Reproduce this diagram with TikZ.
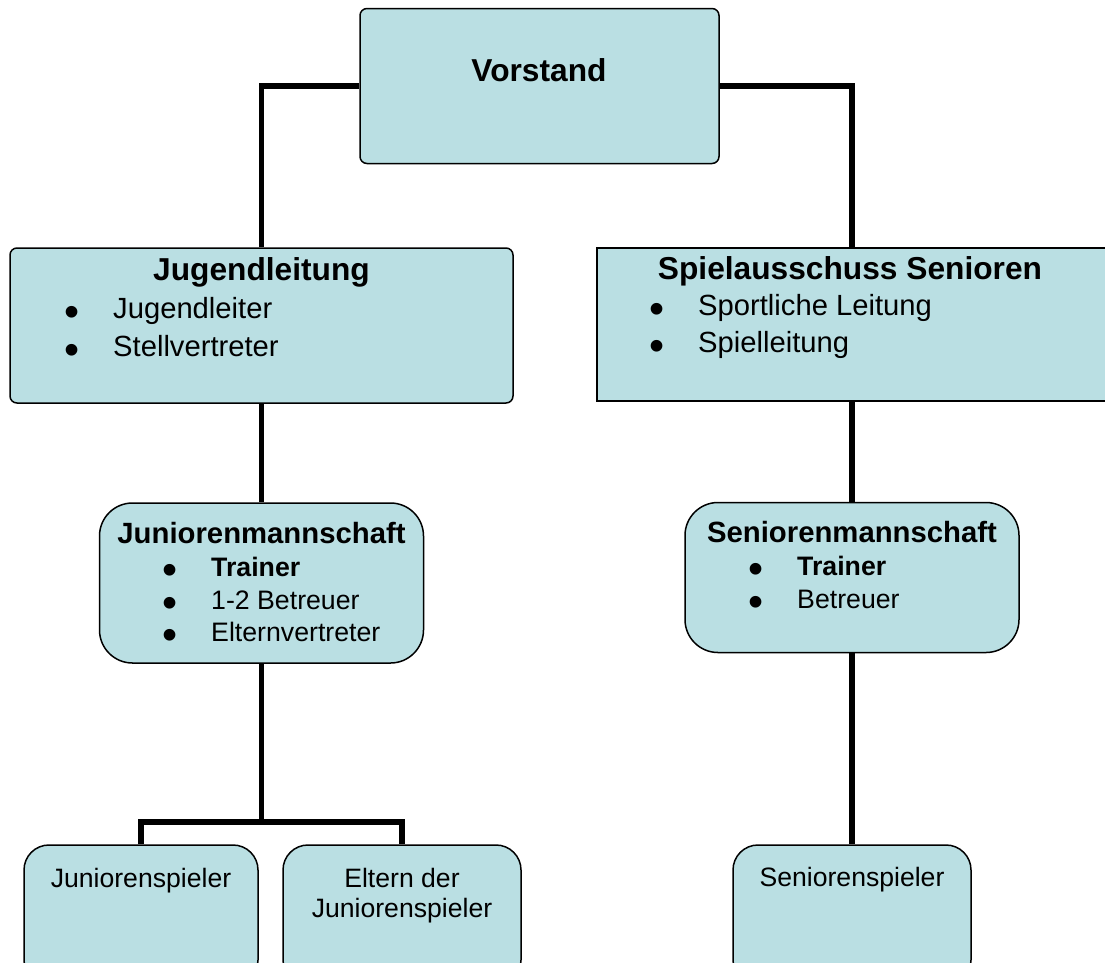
\documentclass[tikz,border=0pt]{standalone}
\usepackage{fontspec}
\setmainfont{Liberation Sans}
\definecolor{boxfill}{RGB}{186,223,227}
\begin{document}
\begin{tikzpicture}[x=1pt,y=-1pt,
  box/.style={draw=black, line width=1.5pt, fill=boxfill, inner sep=0pt},
  conn/.style={draw=black, line width=5.5pt},
  txt/.style={inner sep=0pt, anchor=base},
  txtw/.style={inner sep=0pt, anchor=base west},
  hA/.style={txt, font=\fontsize{31.7}{36}\selectfont\bfseries},
  bA/.style={txtw, font=\fontsize{29.2}{34}\selectfont},
  hB/.style={txt, font=\fontsize{29.3}{34}\selectfont\bfseries},
  bB/.style={txtw, font=\fontsize{26.7}{31}\selectfont},
  bBb/.style={txtw, font=\fontsize{26.7}{31}\selectfont\bfseries},
  bC/.style={txt, font=\fontsize{26.6}{31}\selectfont},
  bul/.style={txt, font=\fontsize{43}{48}\selectfont, yshift=-8pt}
]
\useasboundingbox (0,0) rectangle (1105,962);
\clip (0,0) rectangle (1105,962);

% boxes
\node[box, rounded corners=7pt, minimum width=359pt, minimum height=155pt] (vorstand) at (539.5,86) {};
\node[box, rounded corners=7pt, minimum width=503pt, minimum height=155pt] (jugend) at (261.5,325.5) {};
\node[box, minimum width=510pt, minimum height=153pt] (spiel) at (852,324.5) {};
\node[box, rounded corners=33pt, minimum width=324pt, minimum height=160pt] (junior) at (261.5,583) {};
\node[box, rounded corners=33pt, minimum width=334pt, minimum height=150pt] (senior) at (852,577.5) {};
\node[box, rounded corners=25pt, minimum width=234pt, minimum height=140pt] (jspieler) at (141,915) {};
\node[box, rounded corners=25pt, minimum width=238pt, minimum height=140pt] (eltern) at (402,915) {};
\node[box, rounded corners=25pt, minimum width=238pt, minimum height=140pt] (sspieler) at (852,915) {};

% connectors
\coordinate (jsplit) at (261.5,822);
\draw[conn] (vorstand.west) -| (jugend.north);
\draw[conn] (vorstand.east) -| (spiel.north);
\draw[conn] (jugend.south) -- (junior.north);
\draw[conn] (spiel.south) -- (senior.north);
\draw[conn] (junior.south) -- (jsplit);
\draw[conn] (jspieler.north) |- (jsplit) -| (eltern.north);
\draw[conn] (senior.south) -- (sspieler.north);

% texts
\node[hA] (tv) at (539,81) {Vorstand};

\node[hA] (tj) at (261.5,280) {Jugendleitung};
\node[bul] (tj1d) at (72.5,318) {•};
\node[bA] (tj1) at (113,318) {Jugendleiter};
\node[bul] (tj2d) at (72.5,356) {•};
\node[bA] (tj2) at (113,356) {Stellvertreter};

\node[hA] (ts) at (850,279) {Spielausschuss Senioren};
\node[bul] (ts1d) at (657.5,315) {•};
\node[bA] (ts1) at (698,315) {Sportliche Leitung};
\node[bul] (ts2d) at (657.5,352) {•};
\node[bA] (ts2) at (698,352) {Spielleitung};

\node[hB] (tjm) at (261.5,543) {Juniorenmannschaft};
\node[bul] (tjm1d) at (170,576) {•};
\node[bBb] (tjm1) at (211,576) {Trainer};
\node[bul] (tjm2d) at (170,609) {•};
\node[bB] (tjm2) at (211,609) {1-2 Betreuer};
\node[bul] (tjm3d) at (170,641) {•};
\node[bB] (tjm3) at (211,641) {Elternvertreter};

\node[hB] (tsm) at (852,542) {Seniorenmannschaft};
\node[bul] (tsm1d) at (756,575) {•};
\node[bBb] (tsm1) at (797,575) {Trainer};
\node[bul] (tsm2d) at (756,608) {•};
\node[bB] (tsm2) at (797,608) {Betreuer};

\node[bC] (tjs) at (141,887) {Juniorenspieler};
\node[bC] (tel1) at (402,887) {Eltern der};
\node[bC] (tel2) at (402,917) {Juniorenspieler};
\node[bC] (tss) at (852,886) {Seniorenspieler};
\end{tikzpicture}
\end{document}
